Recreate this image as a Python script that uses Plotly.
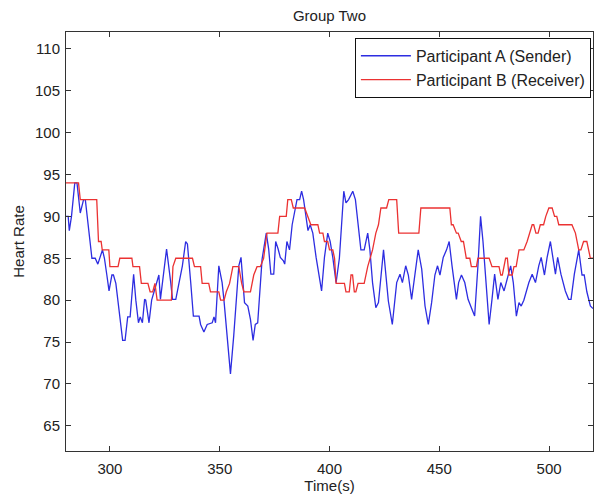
import plotly.graph_objects as go

# Participant A (Sender) - blue
time_a = [280, 281, 281.5, 282.5, 284, 285, 286.5, 288, 288.8, 290, 290.6, 291.8, 293.3, 294.5, 296.6, 297.5,
          298.6, 299.6, 300.9, 301.6, 302.7, 303.8, 305, 305.8, 306.9, 308.1, 309.2, 309.9, 310.8, 311.8, 313,
          313.8, 314.8, 315.8, 316.3, 317.8, 319, 320.1, 321.3, 322.3, 323, 324.5, 325.8, 327.7, 328.5, 330,
          331.5, 333, 334.5, 335.3, 336.8, 338, 340.6, 341.3, 342.8, 344.3, 346.6, 347.4, 348.1, 349.6, 351.1,
          351.9, 354.9, 356.4, 358.7, 359.7, 361.3, 362.8, 364, 365.2, 366.2, 367.3, 369.3, 371.2, 372.3, 373.3,
          374.6, 375.5, 376.6, 377.6, 379, 379.6, 380.6, 381.8, 383, 385.2, 386.4, 387.3, 388.2, 389.1, 390.2,
          391.2, 392.4, 393.9, 395.2, 396.4, 397.7, 399.2, 400.3, 401.5, 403, 404.5, 406.5, 407.5, 408.7, 410.6,
          411.8, 413, 414.3, 415.8, 417.4, 418.4, 419.6, 421.1, 422.3, 424.6, 425.6, 426.8, 428.6, 430.6, 432.1,
          433.2, 434.7, 435.9, 437.4, 439, 440.4, 442, 443.5, 445, 446.5, 448, 449.2, 450.3, 451.8, 453.3, 454.5,
          455.8, 457.8, 458.8, 460.1, 461.6, 463.1, 464.6, 466.1, 467.6, 468.8, 469.9, 471.4, 472.7, 474, 475.2,
          476.7, 478, 479.5, 481.3, 482.5, 483.7, 485.1, 486.3, 487.3, 488.5, 490.8, 492.3, 493.8, 495.3, 496.4,
          497.9, 499.1, 500.6, 502.1, 502.9, 503.9, 505.4, 507.4, 508.9, 510, 511.5, 513.5, 515, 516, 517.2,
          518.8, 520]
hr_a = [90, 90, 88.3, 90, 94, 94, 90.4, 92, 92, 89.3, 88, 85, 85, 84.3, 86, 85,
        83, 81.1, 83, 83, 82, 79.7, 76.9, 75.2, 75.2, 78, 78, 80, 83.1, 80, 77.3,
        78, 77.3, 80.1, 80, 77.3, 80, 81, 82, 83, 80.1, 83, 86.1, 82.1, 80.1, 80.1,
        82.1, 84.1, 87, 86.7, 82.1, 78.1, 78.1, 77.1, 76.2, 77.1, 77.3, 78, 77.3, 84.1, 82.1,
        80.1, 71.2, 75.8, 84.1, 85.1, 79.7, 79.3, 77.7, 75.2, 77.1, 77.3, 84.9, 88, 86.1, 83.1,
        83.1, 87, 86.1, 85.1, 84.7, 84.3, 87, 86, 89, 92, 92, 93, 92, 90, 88.3,
        89, 88, 85.1, 83.1, 81.1, 85.1, 88, 87, 85.1, 82.1, 85, 93, 91.6, 92, 93,
        92, 89, 86, 86, 88, 86, 82.1, 79.1, 79.7, 86, 83, 79.9, 77.1, 82.1, 83.1,
        82.1, 84.1, 83, 80.1, 83, 86, 83.7, 79.3, 77.1, 79.7, 83, 84.1, 83, 85.1, 86, 87,
        84.1, 80.1, 82.1, 83, 82.1, 80.1, 79.1, 78.1, 84.1, 90, 87, 82.1, 77.1, 80.1, 83.1,
        80.1, 82.1, 81.1, 83, 84.1, 82.1, 78.1, 79.7, 79.3, 80, 82.1, 83.1, 82.1, 84.1, 85.1,
        83, 85.1, 87, 84.1, 83.1, 85.1, 83.1, 81.1, 80.1, 80.1, 83.1, 86, 83, 83, 81,
        79.3, 79]

# Participant B (Receiver) - red
time_b = [280, 285.7, 286.5, 294, 294.8, 296, 296.5, 299.5, 300, 303.7, 304.5, 310, 310.5, 313.5, 314.3, 317.3,
          318.3, 319.5, 320.5, 321.5, 328, 328.7, 330, 337.6, 338.5, 341.3, 342, 345, 345.8, 349.6, 350.4, 352,
          353, 354.5, 356, 358.7, 360, 361, 364, 365.5, 367, 368.5, 370, 371.5, 376.5, 377.3, 380.3, 381, 382.6,
          383.5, 388.7, 390, 391.5, 394.7, 395.5, 397, 397.7, 399.2, 400, 401.5, 402.3, 403, 406.8, 407.5, 409,
          409.8, 410.5, 411.3, 412, 413, 415.8, 417.4, 419.6, 421.1, 422.3, 423.4, 426, 427, 430.6, 431.5,
          440.7, 441.6, 454.8, 455.5, 456.3, 457.8, 458.6, 460, 461, 462.3, 463.9, 464.6, 466.9, 467.6, 472.7,
          474, 477.2, 478, 478.7, 480.2, 481, 481.7, 483.2, 484, 485, 486.3, 488.5, 490, 492.3, 493, 494, 495,
          496, 497.5, 498.5, 499.9, 501.4, 502.5, 503.5, 504.4, 510.4, 512, 513.5, 514.5, 515.7, 517.2, 518.8,
          520]
hr_b = [94, 94, 92, 92, 87, 87, 86, 86, 84, 84, 85, 85, 84, 84, 82, 82,
        81, 81, 82, 80, 80, 84, 85, 85, 84, 84, 82, 82, 81, 81, 80, 80,
        81, 82, 84, 84, 82, 81, 81, 83, 84, 84, 85, 88, 88, 90, 90, 92, 92,
        91, 91, 90, 89, 89, 88, 88, 87, 87, 86, 86, 85, 82, 82, 81, 81,
        83, 83, 81, 81, 82, 82, 84, 86, 88, 89, 91, 91, 92, 92, 88,
        88, 91, 91, 89, 89, 88, 88, 87, 87, 85, 85, 84, 84, 85, 85,
        84, 84, 83, 83, 85, 85, 83, 83, 84, 84, 86, 86, 87, 89, 89, 88, 88,
        89, 89, 90, 91, 91, 90, 90, 89, 89, 88, 86, 86, 87, 87, 85,
        85]

x_ticks = [300, 350, 400, 450, 500]
y_ticks = [65, 70, 75, 80, 85, 90, 95, 100, 105, 110]

FONT = "Liberation Sans, Arial, sans-serif"
TXT = "#222222"

fig = go.Figure()
fig.add_trace(go.Scatter(x=time_a, y=hr_a, mode="lines", name="Participant A (Sender)",
                         line=dict(color="rgb(45,45,225)", width=1.3)))
fig.add_trace(go.Scatter(x=time_b, y=hr_b, mode="lines", name="Participant B (Receiver)",
                         line=dict(color="rgb(235,50,50)", width=1.3)))

axis_common = dict(showline=True, linecolor="#333333", linewidth=1, mirror="ticks",
                   ticks="inside", ticklen=5, tickcolor="#333333", showgrid=False,
                   zeroline=False, tickfont=dict(family=FONT, size=15, color=TXT))

fig.update_layout(
    width=594, height=498,
    margin=dict(l=66, r=1, t=32, b=47),
    paper_bgcolor="white", plot_bgcolor="white",
    font=dict(family=FONT, color=TXT),
    title=dict(text="Group Two", x=0.5, xref="paper", y=1 - 16 / 498, yref="container",
               xanchor="center", yanchor="middle", font=dict(family=FONT, size=15, color=TXT)),
    xaxis=dict(range=[280, 520], tickvals=x_ticks, ticklabelstandoff=4,
               title=dict(text="Time(s)", font=dict(family=FONT, size=15, color=TXT), standoff=3),
               **axis_common),
    yaxis=dict(range=[62, 112], tickvals=y_ticks, ticklabelstandoff=2,
               title=dict(text="Heart Rate", font=dict(family=FONT, size=15, color=TXT), standoff=6),
               **axis_common),
    legend=dict(x=0.996, xanchor="right", y=0.986, yanchor="top",
                bgcolor="white", bordercolor="#111111", borderwidth=1,
                font=dict(family=FONT, size=16, color=TXT), itemwidth=50,
                tracegroupgap=0),
    showlegend=True,
)

fig.write_html("out.html",
               config={"displayModeBar": False},
               post_script="document.body.style.margin='0';document.body.style.padding='0';"
                           "document.body.style.overflow='hidden';")
